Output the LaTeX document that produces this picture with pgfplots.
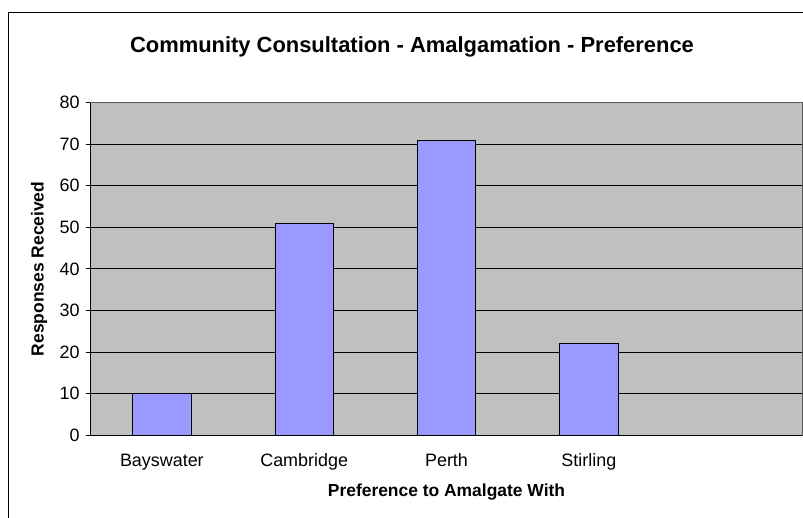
\documentclass[border=0pt]{standalone}
\usepackage{pgfplots}
\pgfplotsset{compat=1.18}
\usepackage{fontspec}
\setmainfont{Liberation Sans}
\definecolor{plotgray}{HTML}{C0C0C0}
\definecolor{barblue}{HTML}{9999FF}
\begin{document}
\begin{tikzpicture}[x=1bp,y=1bp]
\useasboundingbox (0,0) rectangle (803,518);
\clip (0,0) rectangle (803,518);
\fill[white] (0,0) rectangle (803,518);
\draw[black, line width=1bp] (8.5,-10) -- (8.5,505.5) -- (820,505.5);
\begin{axis}[
  at={(90.7bp,83bp)}, anchor=south west,
  width=711.6bp, height=332.3bp, scale only axis,
  xmin=-0.5, xmax=4.5, ymin=0, ymax=80,
  axis background/.style={fill=plotgray},
  axis line style={draw=gray!70!black, line width=0.8bp},
  ytick={0,10,...,80},
  ymajorgrids, grid style={black, line width=0.8bp},
  xtick={0,1,2,3},
  xticklabels={Bayswater,Cambridge,Perth,Stirling},
  major x tick style={draw=none},
  extra x ticks={-0.5,0.5,1.5,2.5,3.5,4.5},
  extra x tick labels={},
  extra x tick style={grid=none, major tick length=5bp, tick align=outside, tick style={black, line width=0.8bp}},
  ytick align=outside, ytick pos=left, xtick pos=bottom,
  major y tick style={black, line width=0.8bp},
  major tick length=5bp,
  /pgf/number format/assume math mode=true,
  tick label style={font=\fontsize{18}{21}\selectfont},
  xticklabel style={anchor=base, yshift=-27bp},
  yticklabel style={xshift=-2.5bp},
  title={\bfseries Community Consultation - Amalgamation - Preference},
  title style={at={(axis description cs:0.4515,1.1337)}, anchor=base, inner sep=0pt, font=\fontsize{22}{26}\selectfont},
  xlabel={\bfseries Preference to Amalgate With},
  xlabel style={at={(axis description cs:0.5,-0.1857)}, anchor=base, inner sep=0pt, font=\fontsize{17.5}{21}\selectfont},
  ylabel={\bfseries Responses Received},
  ylabel style={at={(axis description cs:-0.0663,0.5)}, anchor=base, inner sep=0pt, rotate=0, font=\fontsize{17.5}{21}\selectfont},
  ybar, bar width=58.4bp,
  clip=false,
]
\addplot[fill=barblue, draw=black, line width=0.8bp] coordinates {(0,10) (1,51) (2,71) (3,22)};
\draw[black, line width=0.8bp] (rel axis cs:0,0) -- (rel axis cs:0,1);
\draw[black, line width=0.8bp] (rel axis cs:0,0) -- (rel axis cs:1,0);
\end{axis}
\end{tikzpicture}
\end{document}
